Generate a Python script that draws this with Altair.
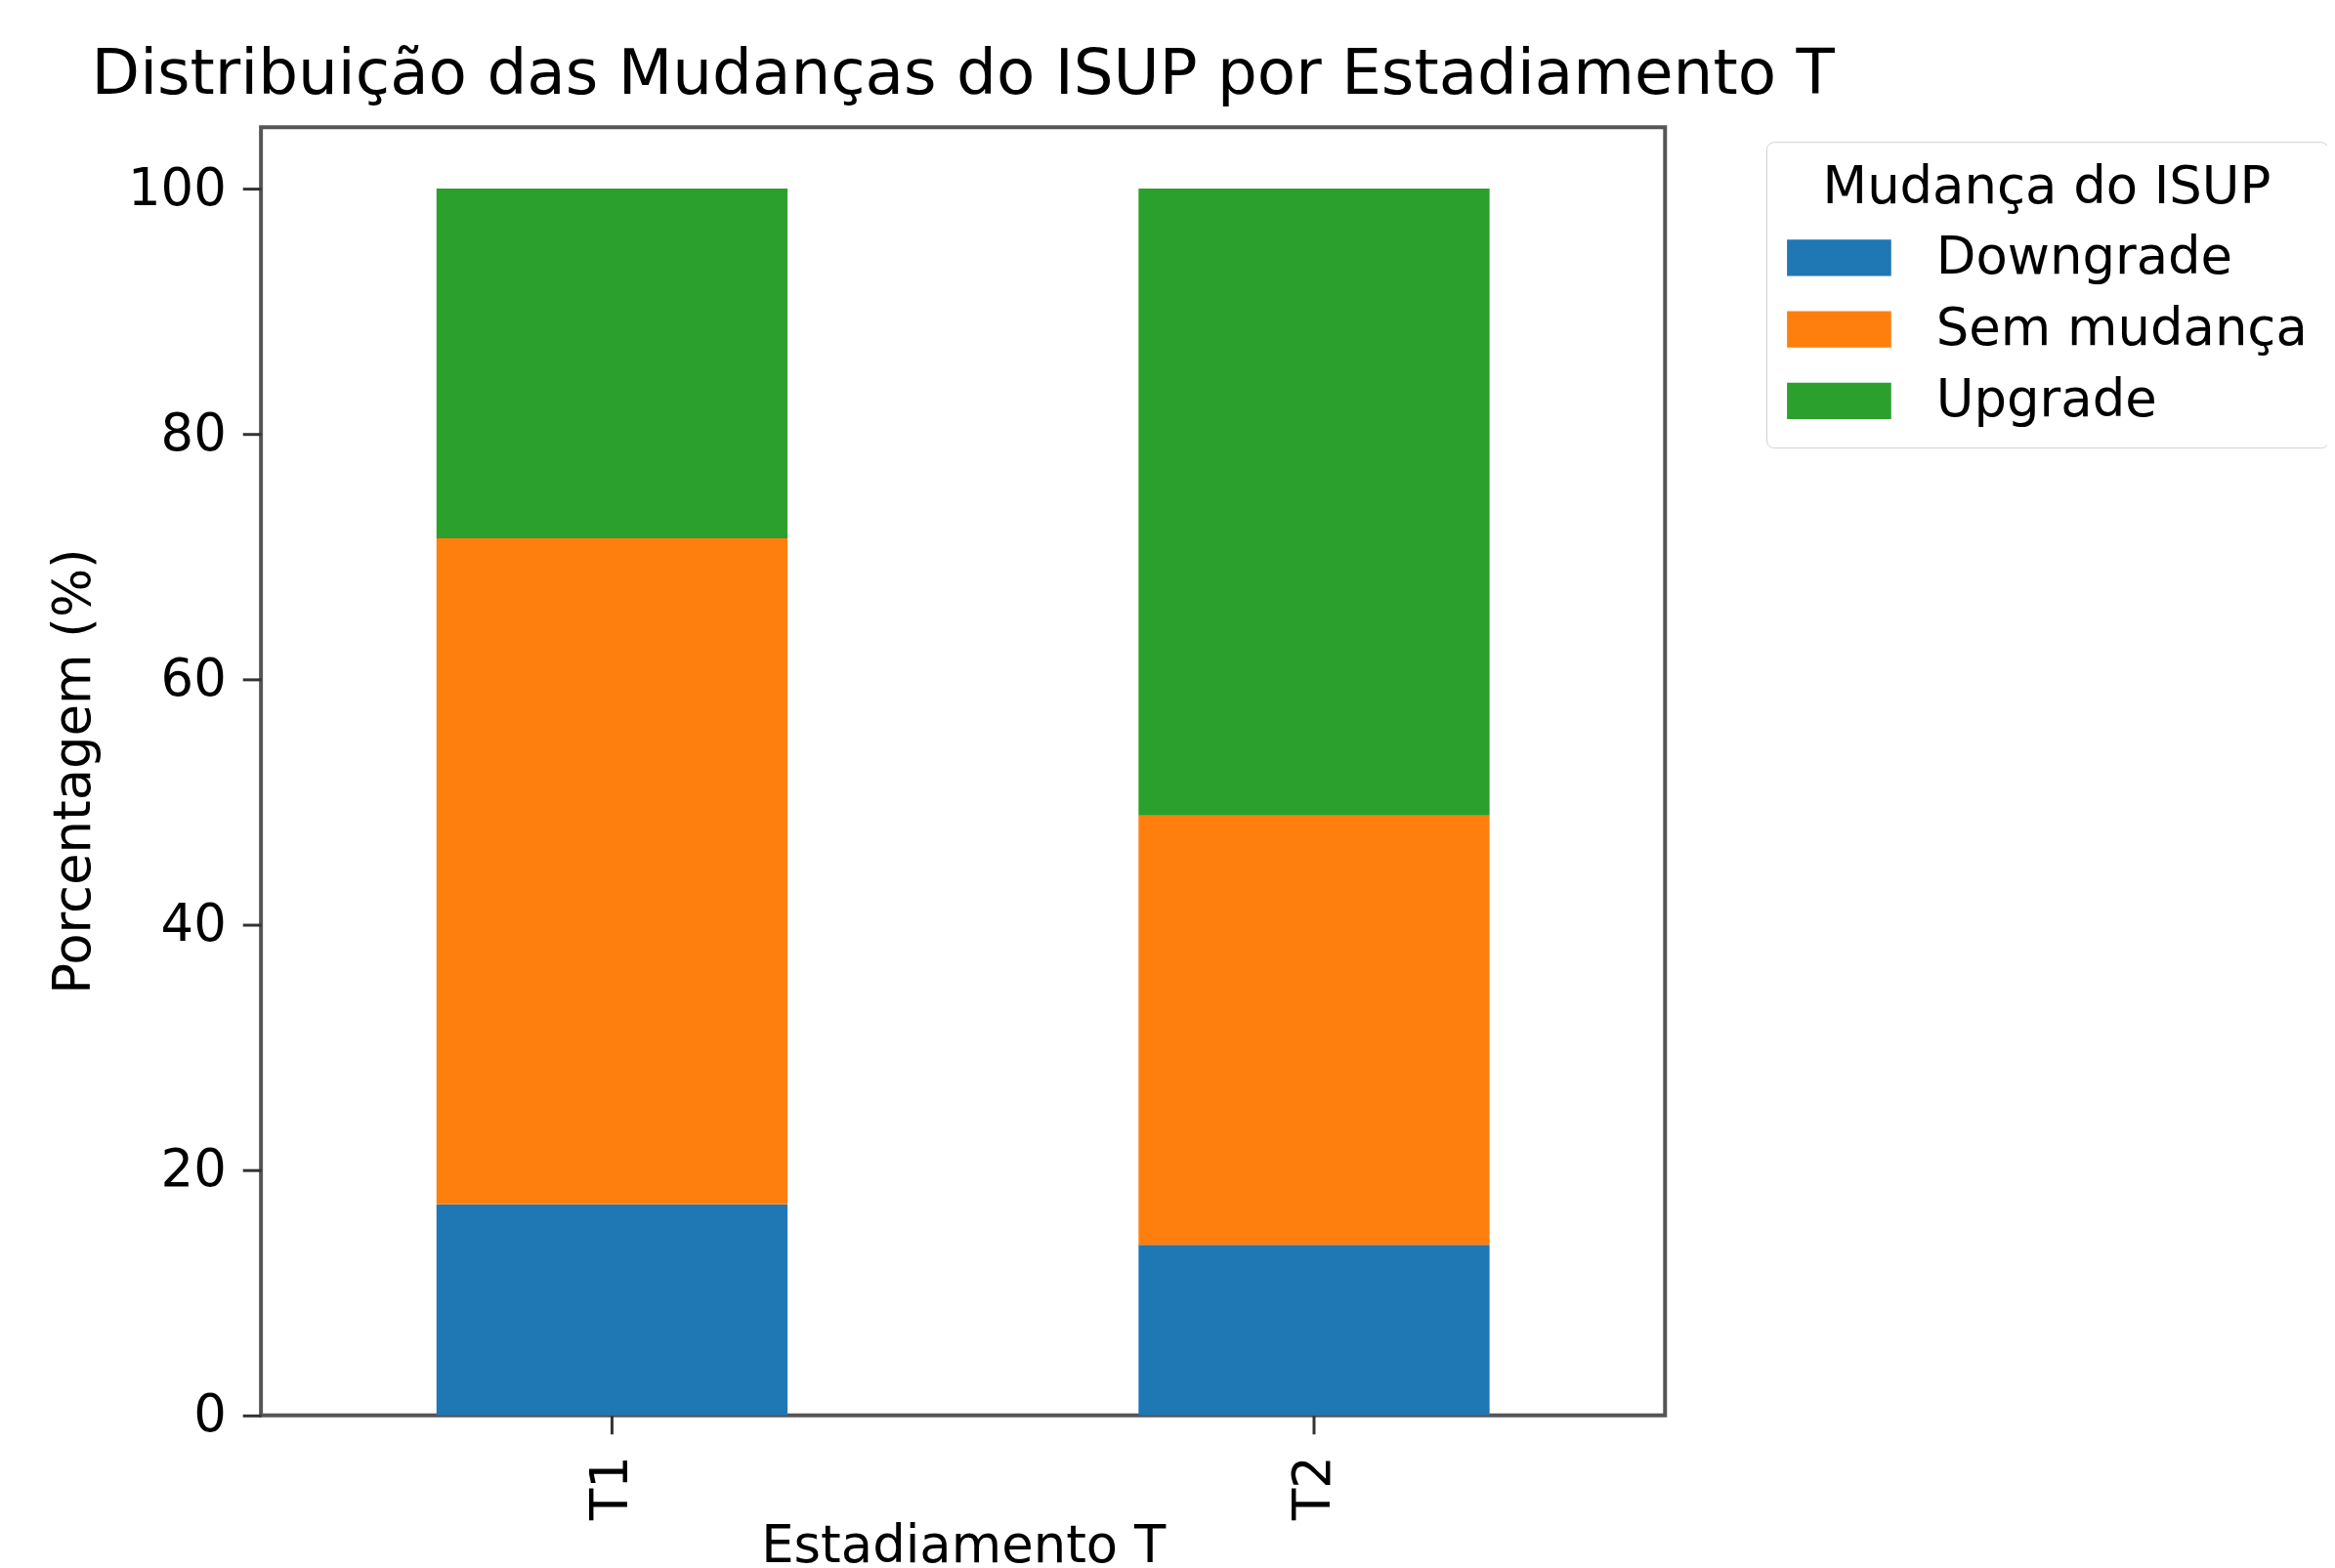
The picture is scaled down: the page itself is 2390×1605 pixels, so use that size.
import altair as alt
import pandas as pd

categories = ["T1", "T2"]
changes = ["Downgrade", "Sem mudança", "Upgrade"]
downgrade = [17.2, 13.9]
sem_mudanca = [54.3, 35.0]
upgrade = [28.5, 51.1]
colors = ["#1f77b4", "#ff7f0e", "#2ca02c"]
y_ticks = [0, 20, 40, 60, 80, 100]

rows = []
for i, cat in enumerate(categories):
    for k, (ch, vals) in enumerate(zip(changes, [downgrade, sem_mudanca, upgrade])):
        rows.append({"Estadiamento T": cat, "Mudança do ISUP": ch,
                     "Porcentagem": vals[i], "ordem": k})
df = pd.DataFrame(rows)

FONT = "DejaVu Sans"
W, H = 1442, 1323

chart = alt.Chart(df).mark_bar().encode(
    x=alt.X("Estadiamento T:N", sort=categories,
            scale=alt.Scale(paddingInner=0.5, paddingOuter=0.25),
            axis=alt.Axis(title="Estadiamento T", labelAngle=270, labelAlign="right",
                          labelBaseline="middle", labelPadding=22,
                          titleX=721, titleY=134, titleAlign="center",
                          titleBaseline="middle")),
    y=alt.Y("Porcentagem:Q", stack="zero",
            scale=alt.Scale(domain=[0, 105], nice=False, zero=True),
            axis=alt.Axis(title="Porcentagem (%)", values=y_ticks, labelPadding=17,
                          titleX=-192, titleY=661, titleAngle=270, titleAlign="center",
                          titleBaseline="middle")),
    color=alt.Color("Mudança do ISUP:N", sort=changes,
                    scale=alt.Scale(domain=changes, range=colors),
                    legend=alt.Legend(title="Mudança do ISUP", orient="none",
                                      legendX=1546, legendY=15)),
    order=alt.Order("ordem:Q"),
).properties(
    width=W, height=H,
    title=alt.TitleParams("Distribuição das Mudanças do ISUP por Estadiamento T",
                          fontSize=64.6, font=FONT, fontWeight="normal", color="black",
                          anchor="middle", baseline="alphabetic", offset=-30),
    autosize=alt.AutoSizeParams(type="none"),
    padding={"left": 260, "top": 120, "right": 680, "bottom": 154},
).configure_view(
    stroke="#555555", strokeWidth=4
).configure_axis(
    domain=False, grid=False,
    labelFont=FONT, labelFontSize=53, labelColor="black",
    titleFont=FONT, titleFontSize=53, titleColor="black", titleFontWeight="normal",
    tickColor="#333333", tickWidth=3, tickSize=19,
).configure_legend(
    titleFont=FONT, titleFontSize=53, titleColor="black", titleFontWeight="normal",
    titleAnchor="middle", titlePadding=18, titleLimit=800,
    labelFont=FONT, labelFontSize=53, labelColor="black", labelOffset=99.5,
    labelLimit=800,
    symbolType="M-1,-0.7L3,-0.7L3,0.7L-1,0.7Z", symbolSize=2862,
    symbolStrokeWidth=0, symbolOpacity=1,
    strokeColor="#d0d0d0", fillColor="white", padding=21, cornerRadius=8,
    rowPadding=19.5,
)

chart.save("out.html", embed_options={"renderer": "svg", "actions": False})
